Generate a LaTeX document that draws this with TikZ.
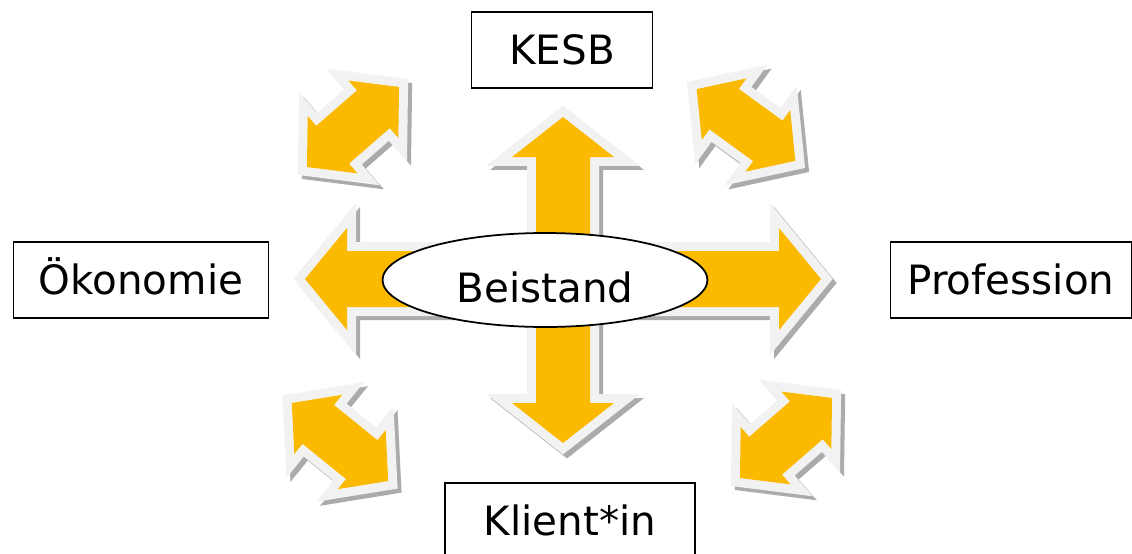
\documentclass[tikz,border=0pt]{standalone}
\usepackage{fontspec}
\setmainfont{DejaVu Sans}
\usetikzlibrary{shapes.geometric}
\definecolor{arrowyellow}{HTML}{FBBA00}
\definecolor{rimgray}{HTML}{F2F2F2}
\definecolor{shadegray}{HTML}{ABABAB}
\tikzset{l/.style={font=\fontsize{23}{23}\selectfont}}
\tikzset{box/.style={draw, line width=0.9pt, minimum height=1.52cm, text height=17pt, text depth=0pt, l}}
\tikzset{body/.style={fill=arrowyellow,
    preaction={fill=shadegray, draw=shadegray, line width=0.36cm,
      transform canvas={xshift=0.08cm, yshift=-0.08cm}},
    preaction={draw=rimgray, line width=0.36cm}}}
% double arrow: centre, angle, half length, head length, head half width, shaft half width
\newcommand{\twoway}[6]{%
  \path[body, shift={#1}, rotate=#2]
    (#3,0) -- ({#3-#4},#5) -- ({#3-#4},#6) -- ({-#3+#4},#6) -- ({-#3+#4},#5)
    -- (-#3,0) -- ({-#3+#4},-#5) -- ({-#3+#4},-#6) -- ({#3-#4},-#6) -- ({#3-#4},-#5) -- cycle;}

\begin{document}
\begin{tikzpicture}[x=0.02cm, y=-0.02cm]
    \useasboundingbox (0,0) rectangle (1132,554);
    % small arrows
    \twoway{(353,127)}{41}{61}{34}{38}{25}
    \twoway{(746,125)}{-36}{61}{34}{38}{25}
    \twoway{(340,442)}{-39}{62}{34}{38}{25}
    \twoway{(786,438)}{41}{61}{34}{38}{25}
    % cross
    \twoway{(563,279)}{0}{258}{42}{51}{28}
    \twoway{(563,280)}{90}{163}{40}{51}{27}
    \node (beistand) [draw, ellipse, fill=white, line width=1pt, inner sep=0pt,
      minimum width=6.5cm, minimum height=1.88cm, text height=26pt, text depth=0pt, l]
      at (545,280) {Beistand};
    \node (kesb) [box, minimum width=3.62cm] at (562,50) {KESB};
    \node (oekonomie) [box, minimum width=5.1cm] at (141,280) {Ökonomie};
    \node (profession) [box, minimum width=4.82cm] at (1011,280) {Profession};
    \node (klient) [box, minimum width=5cm] at (570,521) {Klient*in};
\end{tikzpicture}
\end{document}
